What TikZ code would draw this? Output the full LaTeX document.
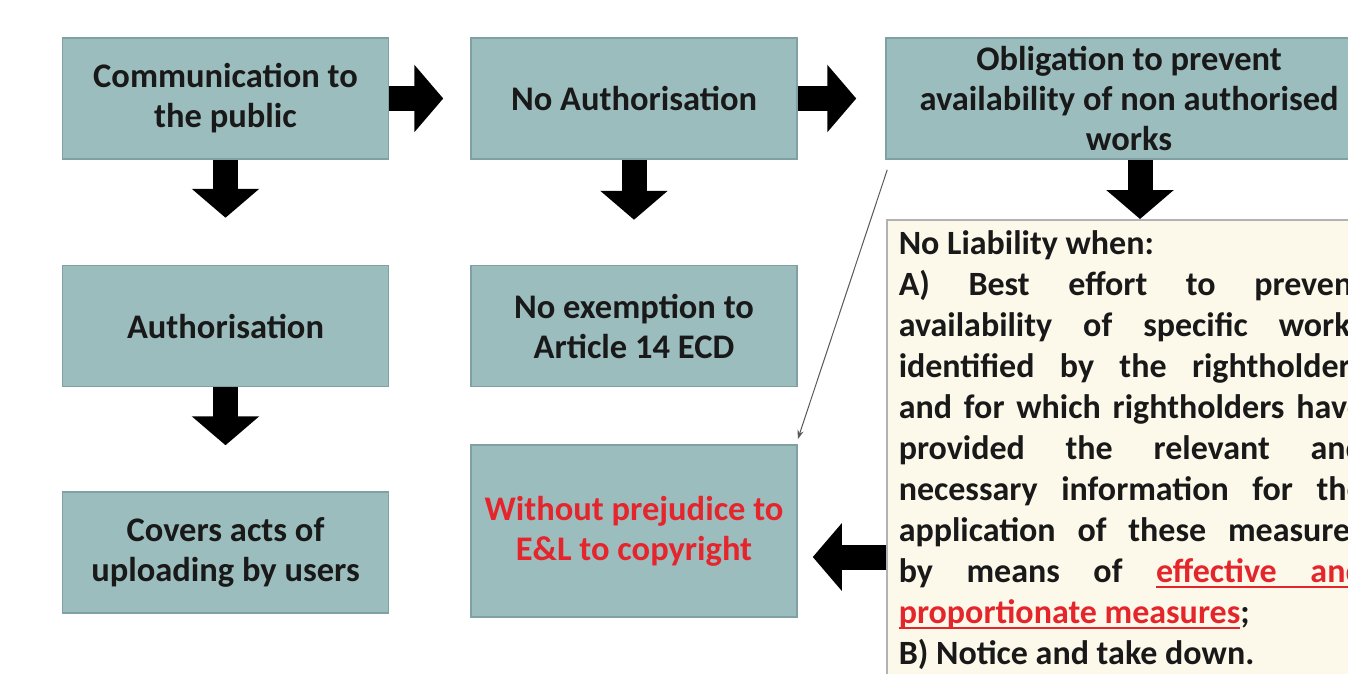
\documentclass[tikz,border=0pt]{standalone}
\usepackage{fontspec}
\setmainfont{Carlito}
\usetikzlibrary{arrows.meta}

\definecolor{boxfill}{HTML}{9CBDBE}
\definecolor{boxline}{HTML}{80A1A3}
\definecolor{notefill}{HTML}{FCF9EA}
\definecolor{alertred}{HTML}{E5252C}

% underlined word and underlined stretchable space
\newcommand\ulword[1]{\leavevmode\setbox0\hbox{#1}\rlap{\rule[-5pt]{\wd0}{1.5pt}}\box0}
\newcommand\ulspace{\leaders\hrule height -3.5pt depth 5pt\hskip\fontdimen2\font plus\fontdimen3\font minus\fontdimen4\font}

\begin{document}
\begin{tikzpicture}[x=1pt, y=-1pt,
    box/.style={draw=boxline, line width=1.5pt, fill=boxfill, minimum width=326pt,
      minimum height=121pt, inner sep=0pt, align=center, text=black!90,
      font=\fontsize{34.5}{40}\selectfont\bfseries},
    note/.style={draw=black!30, line width=1.5pt, fill=notefill, text width=465pt,
      inner xsep=12pt, inner ysep=11pt, align=justify, text=black!90,
      font=\fontsize{34}{41}\selectfont\bfseries},
    bigarrow/.style={line width=25pt, -{Triangle[width=66pt,length=29pt]}},
    thinarrow/.style={draw=black!65, line width=1pt, -{Stealth[length=9pt,width=6pt]}}]

    % Background
    \useasboundingbox (0,0) rectangle (1348,673);
    \fill[white] (0,0) rectangle (1348,673);
    \clip (0,0) rectangle (1348,673);

    % Boxes
    \node[box] (comm) at (225.5,98.5) {Communication to\\the public};
    \node[box] (noauth) at (634,98.5) {No Authorisation};
    \node[box, minimum width=486pt] (obl) at (1129,98.5) {Obligation to prevent\\availability of non authorised\\works};
    \node[box] (auth) at (225.5,326) {Authorisation};
    \node[box] (noexe) at (634,326) {No exemption to\\Article 14 ECD};
    \node[box] (covers) at (225.5,552.5) {Covers acts of\\uploading by users};
    \node[box, minimum height=172pt, text=alertred] (prej) at (634,531) {Without prejudice to\\E\&L to copyright};

    % Note
    \node[note, anchor=north west] (liab) at (886,219) {No Liability when:\\
      A) Best effort to prevent\linebreak
      availability of specific works\linebreak
      identified by the rightholders\linebreak
      and for which rightholders have\linebreak
      provided the relevant and\linebreak
      necessary information for the\linebreak
      application of these measures\linebreak
      by means of {\color{alertred}\ulword{effective}\ulspace\ulword{and}}\linebreak
      {\color{alertred}\ulword{proportionate}\ulspace\ulword{measures}};\\
      B) Notice and take down.};

    % Arrows
    \coordinate (mid) at (840,557);
    \draw[bigarrow] (comm.east) -- ([xshift=-27pt]noauth.west);
    \draw[bigarrow] (noauth.east) -- ([xshift=-29pt]obl.west);
    \draw[bigarrow, shorten >=47pt] (comm.south) -- (auth.north);
    \draw[bigarrow, shorten >=46pt] (auth.south) -- (covers.north);
    \draw[bigarrow, shorten >=45pt] (noauth.south) -- (noexe.north);
    \draw[bigarrow] ([xshift=11pt]obl.south) -- ([xshift=11pt]obl.south |- liab.north);
    \draw[bigarrow, shorten >=15pt] (liab.west |- mid) -- (prej.east |- mid);
    \draw[thinarrow] ([xshift=2pt,yshift=-10pt]obl.south west) -- ([yshift=5pt]prej.north east);
\end{tikzpicture}
\end{document}
